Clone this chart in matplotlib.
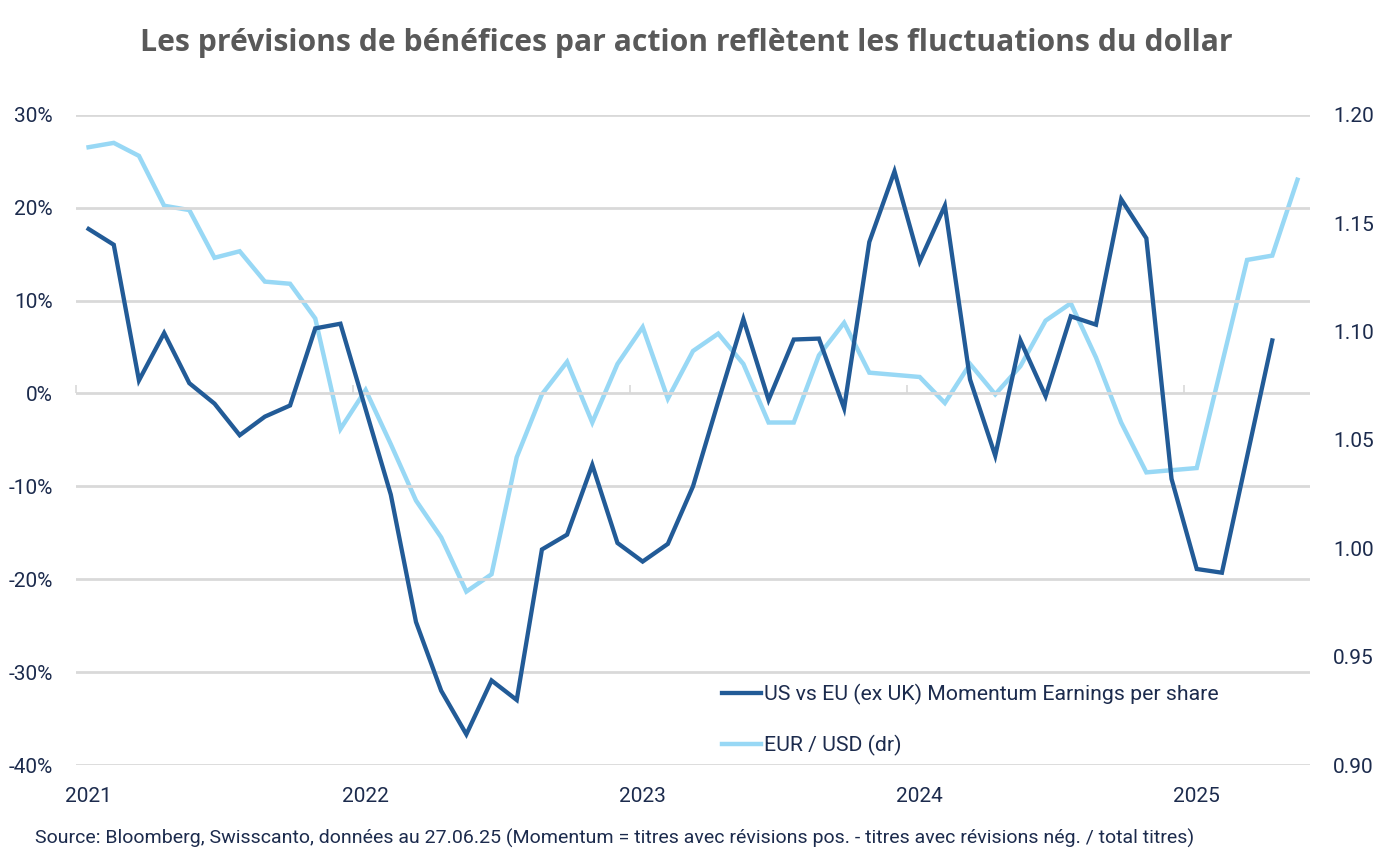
import matplotlib
matplotlib.use("Agg")
import matplotlib.pyplot as plt
from matplotlib.ticker import FixedLocator, FuncFormatter, NullFormatter

# Données (lecture du graphique)
years = ["2021", "2022", "2023", "2024", "2025"]
year_idx = [0, 11, 22, 33, 44]

momentum_eps = [17.7, 16.0, 1.4, 6.5, 1.1, -1.1, -4.5, -2.5, -1.3, 7.0,
                7.5, -1.7, -10.9, -24.6, -32.0, -36.7, -30.9, -33.0, -16.8, -15.2,
                -7.7, -16.1, -18.1, -16.2, -10.0, -0.9, 8.0, -0.7, 5.8, 5.9,
                -1.6, 16.3, 23.9, 14.2, 20.2, 1.5, -6.7, 5.7, -0.3, 8.3,
                7.4, 20.9, 16.7, -9.2, -18.9, -19.3, -6.8, 5.7]

eurusd = [1.185, 1.187, 1.181, 1.158, 1.156, 1.134, 1.137, 1.123, 1.122, 1.106,
          1.055, 1.073, 1.048, 1.022, 1.005, 0.980, 0.988, 1.042, 1.071, 1.086,
          1.058, 1.085, 1.102, 1.069, 1.091, 1.099, 1.085, 1.058, 1.058, 1.089,
          1.104, 1.081, 1.080, 1.079, 1.067, 1.085, 1.071, 1.084, 1.105, 1.113,
          1.088, 1.058, 1.035, 1.036, 1.037, 1.085, 1.133, 1.135, 1.170]

label_eps = "US vs EU (ex UK) Momentum Earnings per share"
label_fx = "EUR / USD (dr)"

dark = "#225b97"
light = "#98d8f5"
navy = "#1c2b4d"
grid = "#d9d9d9"

plt.rcParams["font.family"] = ["Roboto", "DejaVu Sans"]

fig = plt.figure(figsize=(13.83, 8.65), dpi=100)
ax = fig.add_axes([0.05495, 0.1156, 0.8923, 0.7518])
ax2 = ax.twinx()

x1 = list(range(len(momentum_eps)))
x2 = list(range(len(eurusd)))
n = len(eurusd)

l1, = ax.plot(x1, [v / 100 for v in momentum_eps], color=dark, lw=3.1,
              solid_joinstyle="miter", zorder=3, label=label_eps)
l2, = ax2.plot(x2, eurusd, color=light, lw=3.2, solid_joinstyle="miter",
               zorder=2, label=label_fx)
ax.set_zorder(ax2.get_zorder() + 1)
ax.patch.set_visible(False)

ax.set_xlim(-0.5, n - 0.5)
ax.set_ylim(-0.40, 0.30)
ax2.set_ylim(0.90, 1.20)

ax.yaxis.set_major_locator(FixedLocator([-0.4, -0.3, -0.2, -0.1, 0, 0.1, 0.2, 0.3]))
ax.yaxis.set_major_formatter(FuncFormatter(lambda v, p: f"{round(v * 100):d}%"))
ax2.yaxis.set_major_locator(FixedLocator([0.90, 0.95, 1.00, 1.05, 1.10, 1.15, 1.20]))
ax2.yaxis.set_major_formatter(FuncFormatter(lambda v, p: f"{v:.2f}"))

ax.grid(axis="y", color=grid, lw=2)
ax.set_axisbelow(True)

for a in (ax, ax2):
    for s in a.spines.values():
        s.set_visible(False)

ax.tick_params(axis="y", length=0, pad=16.5, labelsize=15, labelcolor=navy)
ax2.tick_params(axis="y", length=0, pad=16.5, labelsize=15, labelcolor=navy)

ax.set_xticks(year_idx)
ax.set_xticklabels(years)
ax.tick_params(axis="x", length=0, pad=15.5, labelsize=15, labelcolor=navy)

# axe horizontal au niveau de 0 % avec graduations entre catégories
sec = ax.secondary_xaxis(4 / 7)
sec.set_xticks([i - 0.5 for i in year_idx])
sec.xaxis.set_major_formatter(NullFormatter())
sec.tick_params(axis="x", direction="out", length=6, width=1.2, color=grid)
for s in sec.spines.values():
    s.set_visible(False)

leg = ax.legend(handles=[l1, l2], loc="upper left",
                bbox_to_anchor=(722 / 1383, 1 - 684 / 865),
                bbox_transform=fig.transFigure, frameon=False,
                fontsize=15.3, handlelength=1.85, handletextpad=0.15,
                labelspacing=1.42, borderpad=0, borderaxespad=0)
for t in leg.get_texts():
    t.set_color(navy)

fig.text(0.496, 1 - 43 / 865, "Les prévisions de bénéfices par action reflètent les fluctuations du dollar",
         ha="center", va="center", fontsize=21.7, fontweight="bold", color="#595959",
         family=["Open Sans", "DejaVu Sans"])
fig.text(35 / 1383, 1 - 838 / 865,
         "Source: Bloomberg, Swisscanto, données au 27.06.25 (Momentum = titres avec révisions pos. - titres avec révisions nég. / total titres)",
         ha="left", va="center", fontsize=14, color=navy)

fig.savefig("out.png", dpi=100)
